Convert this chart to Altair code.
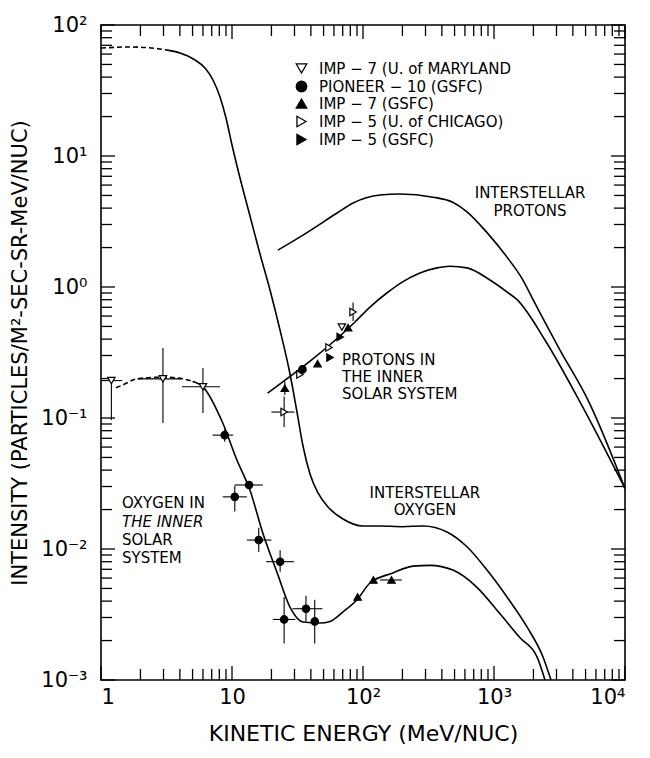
import altair as alt
import pandas as pd

FONT = "DejaVu Sans"

# ---------------- axis values ----------------
x_major = [1, 10, 100, 1000, 10000]
x_minor = [2, 3, 4, 5, 6, 7, 8, 9,
           20, 30, 40, 50, 60, 70, 80, 90,
           200, 300, 400, 500, 600, 700, 800, 900,
           2000, 3000, 4000, 5000, 6000, 7000, 8000, 9000]
y_major = [0.001, 0.01, 0.1, 1, 10, 100]
y_minor = [0.002, 0.003, 0.004, 0.005, 0.006, 0.007, 0.008, 0.009,
           0.02, 0.03, 0.04, 0.05, 0.06, 0.07, 0.08, 0.09,
           0.2, 0.3, 0.4, 0.5, 0.6, 0.7, 0.8, 0.9,
           2, 3, 4, 5, 6, 7, 8, 9,
           20, 30, 40, 50, 60, 70, 80, 90]

# ---------------- curves ----------------
# interstellar oxygen
io_dash_E = [1.0, 1.66, 2.82, 3.3]
io_dash_I = [66.7, 68.0, 65.6, 64.0]
io_E = [3.3, 4.01, 5.22, 6.22, 7.16, 8.10, 9.00, 10.0, 11.51, 13.72, 16.36, 19.50,
        23.25, 27.72, 31.35, 34.83, 39.39, 45.35, 54.06, 70.38, 100, 135, 200, 287,
        438, 622, 885, 1257, 1786, 2367, 2723]
io_I = [64.0, 61.1, 54.06, 46.96, 38.04, 28.2, 19.5, 12.13, 6.79, 3.48, 1.786, 0.949,
        0.4695, 0.2168, 0.111, 0.0611, 0.03736, 0.02677, 0.02093, 0.01694, 0.01498,
        0.0150, 0.0148, 0.0150, 0.0135, 0.0104, 0.0069, 0.0043, 0.00254, 0.0015, 0.001]

# oxygen in the inner solar system
ox_dash_E = [1.3, 1.47, 1.88, 2.97, 4.23, 5.0]
ox_dash_I = [0.17, 0.179, 0.199, 0.205, 0.199, 0.19]
ox_E = [5.0, 6.0, 8.5, 10.9, 13.7, 17.2, 22.1, 27.7, 34.8, 47, 56, 70, 90, 113,
        169, 241, 325, 486, 741, 1111, 1580, 2130, 2450]
ox_I = [0.19, 0.173, 0.0916, 0.0478, 0.0282, 0.0132, 0.0066, 0.0036, 0.00277,
        0.00272, 0.00280, 0.0033, 0.0041, 0.0055, 0.00656, 0.0074, 0.0075, 0.0069,
        0.0051, 0.0032, 0.0021, 0.0015, 0.001]

# interstellar protons
ip_E = [22.4, 34.8, 63.4, 84, 135, 191, 342, 480, 622, 885, 1257, 1663, 1987, 3190,
        5220, 10000]
ip_I = [1.91, 2.49, 3.67, 4.38, 5.04, 5.13, 4.85, 4.45, 3.75, 2.6, 1.69, 1.13, 0.80,
        0.33, 0.137, 0.029]

# protons in the inner solar system
pp_E = [18.7, 86.9, 113, 152, 202, 272, 367, 461, 622, 931, 1257, 1500, 2449, 4456, 10000]
pp_I = [0.155, 0.541, 0.703, 0.90, 1.10, 1.28, 1.40, 1.44, 1.40, 1.13, 0.916, 0.80,
        0.394, 0.137, 0.029]

# ---------------- data points ----------------
inst_names = ["IMP − 7 (U. of MARYLAND", "PIONEER − 10 (GSFC)", "IMP − 7 (GSFC)",
              "IMP − 5 (U. of CHICAGO)", "IMP − 5 (GSFC)"]
inst_shapes = ["triangle-down", "circle", "triangle-up", "triangle-right", "triangle-right"]
inst_fills = ["white", "black", "black", "white", "black"]

# oxygen points
po_E = [1.2, 2.97, 6.0, 8.8, 10.5, 13.5, 16.0, 23.3, 25.0, 36.7, 42.8, 91.0, 120, 165]
po_I = [0.193, 0.199, 0.173, 0.074, 0.025, 0.0308, 0.0117, 0.0080, 0.0029, 0.0035,
        0.0028, 0.0043, 0.0058, 0.0058]
po_inst = [0, 0, 0, 1, 1, 1, 1, 1, 1, 1, 1, 2, 2, 2]
po_Elo = [1.0, 1.9, 4.15, 7.1, 8.5, 10.5, 13.0, 18.2, 20.5, 29.0, None, None, None, 135]
po_Ehi = [1.45, 4.1, 8.1, 10.2, 13.0, 17.2, 20.0, 29.7, 30.4, 49.0, None, None, None, 198]
po_Ilo = [0.0966, 0.0916, 0.109, 0.066, 0.0193, None, 0.0095, 0.0067, 0.0019, 0.0028,
          0.0019, None, None, None]
po_Ihi = [0.193, 0.342, 0.241, 0.082, 0.0305, None, 0.0145, 0.0098, 0.0043, 0.0044,
          0.0041, None, None, None]

# proton points
pr_E = [25.3, 25.0, 33.0, 34.5, 45.0, 56.0, 55.0, 67.0, 69.0, 77.0, 84.0]
pr_I = [0.169, 0.111, 0.215, 0.235, 0.26, 0.29, 0.345, 0.415, 0.495, 0.49, 0.645]
pr_inst = [2, 3, 3, 1, 2, 4, 3, 4, 0, 2, 3]
pr_Elo = [None, 20.0, None, None, None, None, None, None, None, None, None]
pr_Ehi = [None, 30.0, None, None, None, None, None, None, None, None, None]
pr_Ilo = [0.15, 0.0853, None, None, None, None, None, None, None, None, 0.55]
pr_Ihi = [0.19, 0.146, None, None, None, None, None, None, None, None, 0.76]

# ---------------- annotations ----------------
txt_label = ["INTERSTELLAR", "PROTONS", "PROTONS IN", "THE INNER", "SOLAR SYSTEM",
             "INTERSTELLAR", "OXYGEN", "OXYGEN IN", "SOLAR", "SYSTEM"]
txt_E = [1884, 1884, 69.2, 69.2, 69.2, 297, 297, 1.446, 1.446, 1.446]
txt_I = [5.22, 3.80, 0.277, 0.206, 0.152, 0.0267, 0.0199, 0.0224, 0.01172, 0.00853]
txt_align = ["center", "center", "left", "left", "left", "center", "center",
             "left", "left", "left"]
ital_label = ["THE INNER"]
ital_E = [1.446]
ital_I = [0.0161]

# ---------------- build ----------------
W, H = 524, 655
XS = alt.Scale(type="log", domain=[1, 10000], nice=False)
YS = alt.Scale(type="log", domain=[0.001, 100], nice=False)


def curve(E, I, dash=None):
    df = pd.DataFrame({"E": E, "I": I})
    kw = dict(color="black", strokeWidth=1.6, clip=True, interpolate="monotone")
    if dash:
        kw["strokeDash"] = dash
    return alt.Chart(df).mark_line(**kw).encode(
        x=alt.X("E:Q", scale=XS, axis=None),
        y=alt.Y("I:Q", scale=YS, axis=None),
    )


frame_df = pd.DataFrame({"E": [1, 10000], "I": [0.001, 100]})

x_lab = ("datum.value < 5 ? '1' : datum.value < 50 ? '10' : datum.value < 500 ? '10²' : "
         "datum.value < 5000 ? '10³' : '10⁴'")
y_lab = ("datum.value < 0.005 ? '10⁻³' : datum.value < 0.05 ? '10⁻²' : "
         "datum.value < 0.5 ? '10⁻¹' : datum.value < 5 ? '10⁰' : "
         "datum.value < 50 ? '10¹' : '10²'")

common = dict(grid=False, domain=False, labelFont=FONT, titleFont=FONT,
              labelColor="black", titleColor="black")

lab_axes = alt.Chart(frame_df).mark_point(opacity=0).encode(
    x=alt.X("E:Q", scale=XS, axis=alt.Axis(
        orient="bottom", values=x_major, labelExpr=x_lab, ticks=False,
        labelFontSize=21, labelPadding=6, title="KINETIC ENERGY (MeV/NUC)",
        titleFontSize=22, titleFontWeight="normal", titlePadding=16, **common)),
    y=alt.Y("I:Q", scale=YS, axis=alt.Axis(
        orient="left", values=y_major, labelExpr=y_lab, ticks=False,
        labelFontSize=21, labelPadding=14, title="INTENSITY (PARTICLES/M²-SEC-SR-MeV/NUC)",
        titleFontSize=21, titleFontWeight="normal", titlePadding=10, **common)),
)

# inward ticks on all four sides (positions from the scales, lengths in pixels)
tick_kw = dict(color="black", strokeWidth=1.3)
tick_layers = []
for vals, L in [(x_major, 14), (x_minor, 11)]:
    d = pd.DataFrame({"E": vals})
    tick_layers.append(alt.Chart(d).mark_rule(**tick_kw).encode(
        x=alt.X("E:Q", scale=XS, axis=None), y=alt.value(H), y2=alt.value(H - L)))
    tick_layers.append(alt.Chart(d).mark_rule(**tick_kw).encode(
        x=alt.X("E:Q", scale=XS, axis=None), y=alt.value(0), y2=alt.value(L)))
for vals, L in [(y_major, 14), (y_minor, 11)]:
    d = pd.DataFrame({"I": vals})
    tick_layers.append(alt.Chart(d).mark_rule(**tick_kw).encode(
        y=alt.Y("I:Q", scale=YS, axis=None), x=alt.value(0), x2=alt.value(L)))
    tick_layers.append(alt.Chart(d).mark_rule(**tick_kw).encode(
        y=alt.Y("I:Q", scale=YS, axis=None), x=alt.value(W), x2=alt.value(W - L)))

# points
pts = pd.DataFrame({
    "E": po_E + pr_E,
    "I": po_I + pr_I,
    "inst": [inst_names[i] for i in po_inst + pr_inst],
    "Elo": po_Elo + pr_Elo, "Ehi": po_Ehi + pr_Ehi,
    "Ilo": po_Ilo + pr_Ilo, "Ihi": po_Ihi + pr_Ihi,
})
hb = pts.dropna(subset=["Elo", "Ehi"])
vb = pts.dropna(subset=["Ilo", "Ihi"])

hbars = alt.Chart(hb).mark_rule(color="black", strokeWidth=1.1).encode(
    x=alt.X("Elo:Q", scale=XS, axis=None), x2="Ehi:Q",
    y=alt.Y("I:Q", scale=YS, axis=None))
vbars = alt.Chart(vb).mark_rule(color="black", strokeWidth=1.1).encode(
    x=alt.X("E:Q", scale=XS, axis=None),
    y=alt.Y("Ilo:Q", scale=YS, axis=None), y2="Ihi:Q")

leg = alt.Legend(orient="none", legendX=193, legendY=36, title=None, labelFont=FONT,
                 labelFontSize=15, labelColor="black", symbolSize=110, rowPadding=1,
                 symbolStrokeWidth=1.3, labelOffset=10, labelLimit=400)
points = alt.Chart(pts).mark_point(filled=True, strokeWidth=1.2,
                                   size=55, opacity=1).encode(
    x=alt.X("E:Q", scale=XS, axis=None),
    y=alt.Y("I:Q", scale=YS, axis=None),
    shape=alt.Shape("inst:N", scale=alt.Scale(domain=inst_names, range=inst_shapes), legend=leg),
    fill=alt.Fill("inst:N", scale=alt.Scale(domain=inst_names, range=inst_fills), legend=leg),
    stroke=alt.Stroke("inst:N", scale=alt.Scale(domain=inst_names, range=["black"] * 5), legend=leg),
)

tdf = pd.DataFrame({"t": txt_label, "E": txt_E, "I": txt_I, "a": txt_align})
texts = []
for al in ["left", "center"]:
    sub = tdf[tdf["a"] == al]
    texts.append(alt.Chart(sub).mark_text(align=al, baseline="middle", font=FONT,
                                          fontSize=15, color="black").encode(
        x=alt.X("E:Q", scale=XS, axis=None), y=alt.Y("I:Q", scale=YS, axis=None), text="t:N"))
idf = pd.DataFrame({"t": ital_label, "E": ital_E, "I": ital_I})
texts.append(alt.Chart(idf).mark_text(align="left", baseline="middle", font=FONT,
                                      fontSize=15, fontStyle="italic", color="black").encode(
    x=alt.X("E:Q", scale=XS, axis=None), y=alt.Y("I:Q", scale=YS, axis=None), text="t:N"))

chart = alt.layer(
    lab_axes, *tick_layers,
    curve(io_dash_E, io_dash_I, [5, 3]), curve(io_E, io_I),
    curve(ox_dash_E, ox_dash_I, [5, 3]), curve(ox_E, ox_I),
    curve(ip_E, ip_I), curve(pp_E, pp_I),
    hbars, vbars, points, *texts,
).resolve_axis(x="independent", y="independent").properties(
    width=W, height=H,
    autosize=alt.AutoSizeParams(type="none"),
    padding={"left": 93, "top": 17, "right": 17, "bottom": 70},
    background="white",
).configure_view(stroke="black", strokeWidth=1.6)

chart.save("out.html", embed_options={"renderer": "svg", "actions": False})
